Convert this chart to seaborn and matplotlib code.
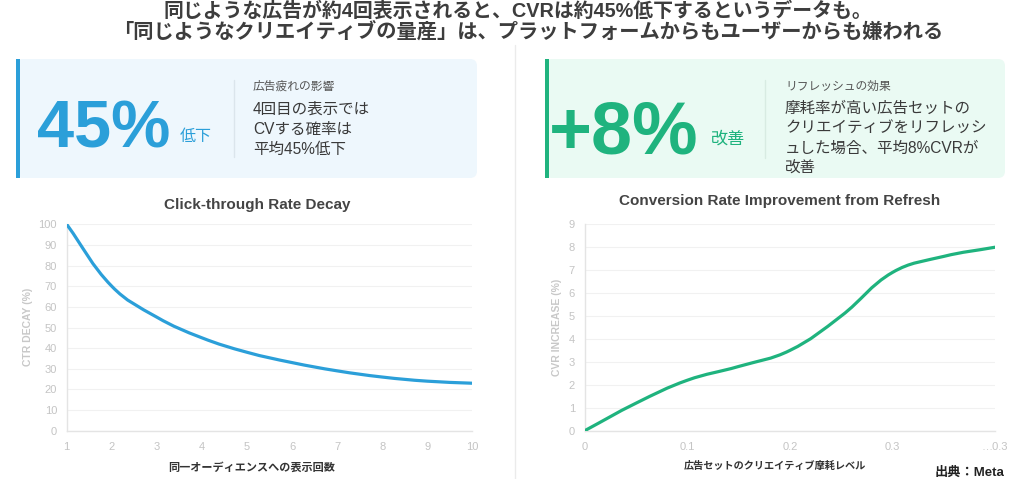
import numpy as np
import matplotlib
matplotlib.use("Agg")
import matplotlib.pyplot as plt
import seaborn as sns
from matplotlib.path import Path
from matplotlib.patches import PathPatch, FancyBboxPatch, Rectangle


# --- data ---
impressions = [1, 2, 3, 4, 5, 6, 7, 8, 9, 10]
ctr_decay = [100, 70, 55, 45, 38, 33, 29, 26, 24, 23]

wear_level = [0, 0.05, 0.1, 0.15, 0.2, 0.25, 0.3, 0.35, 0.4]
cvr_increase = [0, 1.2, 2.2, 2.8, 3.5, 5.0, 6.9, 7.6, 8.0]

ctr_yticks = list(range(0, 101, 10))
cvr_yticks = list(range(0, 10))
wear_ticks = [0, 0.1, 0.2, 0.3, 0.4]
wear_ticklabels = ["0", "0.1", "0.2", "0.3", "…0.3"]

title_lines = [
    "同じような広告が約4回表示されると、CVRは約45%低下するというデータも。",
    "「同じようなクリエイティブの量産」は、プラットフォームからもユーザーからも嫌われる",
]
left_body = ["4回目の表示では", "CVする確率は", "平均45%低下"]
right_body = ["摩耗率が高い広告セットの", "クリエイティブをリフレッシ", "ュした場合、平均8%CVRが", "改善"]

BLUE = "#2b9fd9"
GREEN = "#1fb37e"
TICK = "#c4c4c4"
GRID = "#f1f1f1"
AXLINE = "#e4e4e4"

sns.set_theme(style="white")
plt.rcParams['font.family'] = ['Liberation Sans', 'Noto Sans CJK JP', 'DejaVu Sans']

W, H = 1024, 479
fig = plt.figure(figsize=(W / 100, H / 100), dpi=100)
fig.patch.set_facecolor("white")

# background layer in pixel coordinates
bg = fig.add_axes([0, 0, 1, 1], zorder=0)
bg.set_xlim(0, W)
bg.set_ylim(H, 0)
bg.axis("off")


def px_axes(x0, x1, y_top, y_bot):
    return fig.add_axes([x0 / W, 1 - y_bot / H, (x1 - x0) / W, (y_bot - y_top) / H], zorder=2)


def spline_line(ax, xs, ys, color, lw, tension=0.4):
    # chart.js style bezier through the data points
    pts = ax.transData.transform(np.column_stack([xs, ys]))
    n = len(pts)
    prev_c, next_c = [], []
    for i in range(n):
        p0 = pts[i - 1] if i > 0 else pts[i]
        p1 = pts[i]
        p2 = pts[i + 1] if i < n - 1 else pts[i]
        d01 = np.hypot(*(p1 - p0))
        d12 = np.hypot(*(p2 - p1))
        tot = d01 + d12
        s01 = d01 / tot if tot else 0
        s12 = d12 / tot if tot else 0
        prev_c.append(p1 - tension * s01 * (p2 - p0))
        next_c.append(p1 + tension * s12 * (p2 - p0))
    verts = [pts[0]]
    codes = [Path.MOVETO]
    for i in range(n - 1):
        verts += [next_c[i], prev_c[i + 1], pts[i + 1]]
        codes += [Path.CURVE4] * 3
    verts = ax.transData.inverted().transform(np.array(verts))
    ax.add_patch(PathPatch(Path(verts, codes), fill=False, edgecolor=color,
                           lw=lw, capstyle="round", joinstyle="round", zorder=3))


def style_axes(ax, yticks):
    sns.despine(ax=ax)
    ax.set_facecolor("none")
    for s in ("left", "bottom"):
        ax.spines[s].set_color(AXLINE)
        ax.spines[s].set_linewidth(1)
    ax.set_yticks(yticks)
    ax.grid(axis="y", color=GRID, lw=0.8)
    ax.grid(axis="x", visible=False)
    ax.tick_params(axis="both", length=0, colors=TICK, labelsize=8)
    ax.tick_params(axis="y", pad=7)
    ax.tick_params(axis="x", pad=8)


# --- title ---
bg.text(518, 11, title_lines[0], ha="center", va="center", fontsize=14.3,
        fontweight="bold", color="#3d3d3d")
bg.text(528, 31, title_lines[1], ha="center", va="center", fontsize=14.6,
        fontweight="bold", color="#3d3d3d")

# divider between halves
bg.plot([515, 515], [45, H], color="#ebebeb", lw=1)

# --- cards ---
for x0, x1, face, accent in [(16, 477, "#eef7fd", BLUE), (545, 1005, "#eafaf3", GREEN)]:
    bg.add_patch(FancyBboxPatch((x0, 59), x1 - x0, 119,
                                boxstyle="round,pad=0,rounding_size=7",
                                fc=face, ec="none"))
    bg.add_patch(Rectangle((x0, 59), 4, 119, fc=accent, ec="none"))

bg.text(37, 148, "45%", ha="left", va="baseline", fontsize=48, fontweight="bold", color=BLUE)
bg.text(180, 137, "低下", ha="left", va="center", fontsize=11.5, color=BLUE)
bg.plot([234, 234], [80, 157], color="#dbe5ec", lw=1)
bg.text(253, 87, "広告疲れの影響", ha="left", va="center", fontsize=8.5, color="#555555")
for i, line in enumerate(left_body):
    bg.text(253, 109 + 20.3 * i, line, ha="left", va="center", fontsize=11.2, color="#3a3a3a")

bg.text(549, 154, "+8%", ha="left", va="baseline", fontsize=53, fontweight="bold", color=GREEN)
bg.text(711, 139, "改善", ha="left", va="center", fontsize=12.3, color=GREEN)
bg.plot([765, 765], [80, 158], color="#d8ebe2", lw=1)
bg.text(785, 87, "リフレッシュの効果", ha="left", va="center", fontsize=8.5, color="#555555")
for i, line in enumerate(right_body):
    bg.text(785, 108 + 20.2 * i, line, ha="left", va="center", fontsize=11.2, color="#3a3a3a")

# --- left chart ---
ax1 = px_axes(66.7, 472.3, 224.3, 430.7)
ax1.set_xlim(1, 10)
ax1.set_ylim(0, 100)
ax1.set_xticks(impressions)
style_axes(ax1, ctr_yticks)
spline_line(ax1, impressions, ctr_decay, BLUE, 2.3)
bg.text(257, 205, "Click-through Rate Decay", ha="center", va="center",
        fontsize=11, fontweight="bold", color="#444444")
bg.text(28, 327, "CTR DECAY (%)", ha="center", va="center", rotation=90,
        fontsize=7.5, fontweight="bold", color="#c8c8c8")
bg.text(252, 467, "同一オーディエンスへの表示回数", ha="center", va="center",
        fontsize=8, fontweight="bold", color="#333333")

# --- right chart ---
ax2 = px_axes(584.7, 995, 224.3, 430.7)
ax2.set_xlim(0, 0.4)
ax2.set_ylim(0, 9)
ax2.set_xticks(wear_ticks)
ax2.set_xticklabels(wear_ticklabels)
style_axes(ax2, cvr_yticks)
spline_line(ax2, wear_level, cvr_increase, GREEN, 2.3)
bg.text(780, 201, "Conversion Rate Improvement from Refresh", ha="center", va="center",
        fontsize=11, fontweight="bold", color="#444444")
bg.text(557, 327, "CVR INCREASE (%)", ha="center", va="center", rotation=90,
        fontsize=7.5, fontweight="bold", color="#c8c8c8")
bg.text(775, 466, "広告セットのクリエイティブ摩耗レベル", ha="center", va="center",
        fontsize=7.3, fontweight="bold", color="#333333")
bg.text(1004, 473, "出典：Meta", ha="right", va="center",
        fontsize=9.5, fontweight="bold", color="#222222")

fig.savefig("out.png", dpi=100, facecolor="white")
